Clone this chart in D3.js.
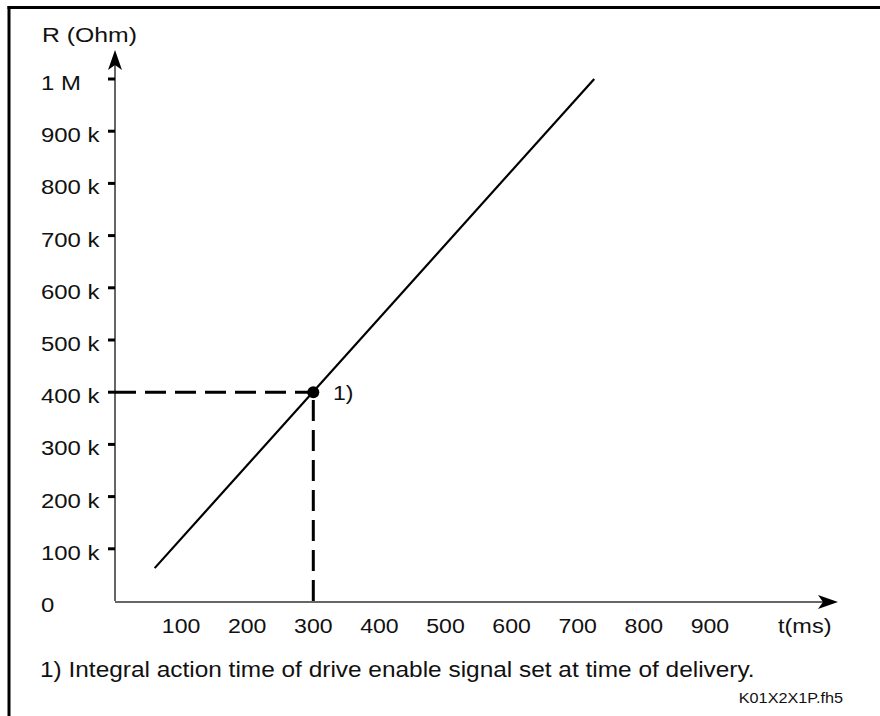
<!DOCTYPE html>
<html>
<head>
<meta charset="utf-8">
<script src="https://cdn.jsdelivr.net/npm/d3@7"></script>
<style>
  html, body { margin: 0; padding: 0; background: #fff; }
  svg { display: block; font-family: "Liberation Sans", Arial, sans-serif; }
</style>
</head>
<body>
<svg id="chart" width="880" height="716"></svg>
<script>
// Resistance vs. integral action time
const timeTicks = [100, 200, 300, 400, 500, 600, 700, 800, 900];
const resistanceTicks = [0, 100000, 200000, 300000, 400000, 500000, 600000, 700000, 800000, 900000, 1000000];
const resistanceLabels = ["0", "100 k", "200 k", "300 k", "400 k", "500 k", "600 k", "700 k", "800 k", "900 k", "1 M"];
const curveTime = [60, 725];
const curveResistance = [63000, 1000000];
const markerTime = [300];
const markerResistance = [400000];

const svg = d3.select("#chart");

const x = d3.scaleLinear().domain([0, 1000]).range([115, 776]);
const y = d3.scaleLinear().domain([0, 1000000]).range([601, 79]);

// text set in a slightly widened face
function label(sel, px, py, size, sx) {
  return sel.attr("transform", `translate(${px},${py}) scale(${sx},1)`)
    .attr("font-size", size).attr("fill", "#111");
}

// frame (top and left edges)
svg.append("line").attr("x1", 7.5).attr("x2", 880).attr("y1", 7.5).attr("y2", 7.5)
  .attr("stroke", "#000").attr("stroke-width", 3);
svg.append("line").attr("x1", 9).attr("x2", 9).attr("y1", 6).attr("y2", 716)
  .attr("stroke", "#000").attr("stroke-width", 3);

// axes with arrowheads
const axisColor = "#333";
svg.append("line").attr("x1", x(0)).attr("x2", x(0)).attr("y1", y(0)).attr("y2", 62)
  .attr("stroke", axisColor).attr("stroke-width", 1.5);
svg.append("path").attr("d", `M${x(0)},50 L${x(0) - 7},70 L${x(0)},65 L${x(0) + 7},70 Z`)
  .attr("fill", "#000");
svg.append("line").attr("x1", x(0)).attr("x2", 828).attr("y1", y(0) + 1).attr("y2", y(0) + 1)
  .attr("stroke", axisColor).attr("stroke-width", 1.5);
svg.append("path").attr("d", `M838,${y(0) + 1} L818,${y(0) - 6} L823,${y(0) + 1} L818,${y(0) + 8} Z`)
  .attr("fill", "#000");

// y ticks and labels
const yt = svg.append("g");
yt.selectAll("line").data(resistanceTicks.filter(d => d > 0)).join("line")
  .attr("x1", x(0) - 7).attr("x2", x(0))
  .attr("y1", d => y(d)).attr("y2", d => y(d))
  .attr("stroke", "#000").attr("stroke-width", 3);
yt.selectAll("text").data(resistanceTicks).join("text")
  .each(function (d, i) {
    label(d3.select(this), 41, y(d) + 11, 21, 1.14).text(resistanceLabels[i]);
  });

// x tick labels
svg.append("g").selectAll("text").data(timeTicks).join("text")
  .attr("text-anchor", "middle")
  .each(function (d) { label(d3.select(this), x(d), 633, 21, 1.1).text(d); });

// axis titles
label(svg.append("text"), 42, 42, 21, 1.18).text("R (Ohm)");
label(svg.append("text"), 778, 633, 21, 1.12).text("t(ms)");

// dashed guides to the marked point
svg.append("line")
  .attr("x1", x(0)).attr("x2", x(markerTime[0]))
  .attr("y1", y(markerResistance[0])).attr("y2", y(markerResistance[0]))
  .attr("stroke", "#000").attr("stroke-width", 3).attr("stroke-dasharray", "21,9");
svg.append("line")
  .attr("x1", x(markerTime[0])).attr("x2", x(markerTime[0]))
  .attr("y1", y(0)).attr("y2", y(markerResistance[0]))
  .attr("stroke", "#000").attr("stroke-width", 3).attr("stroke-dasharray", "21,9");

// characteristic line
const line = d3.line().x(d => x(d[0])).y(d => y(d[1]));
svg.append("path")
  .datum(curveTime.map((t, i) => [t, curveResistance[i]]))
  .attr("d", line)
  .attr("fill", "none").attr("stroke", "#000").attr("stroke-width", 2.2);

// marked point
svg.selectAll("circle.marker").data(markerTime).join("circle")
  .attr("class", "marker")
  .attr("cx", d => x(d)).attr("cy", (d, i) => y(markerResistance[i]))
  .attr("r", 6).attr("fill", "#000");
label(svg.append("text"), 333, 400, 20, 1.15).text("1)");

// footnote
label(svg.append("text"), 40, 677, 22, 1.11)
  .text("1) Integral action time of drive enable signal set at time of delivery.");
label(svg.append("text").attr("text-anchor", "end"), 843, 703, 15, 1.08)
  .text("K01X2X1P.fh5");
</script>
</body>
</html>
